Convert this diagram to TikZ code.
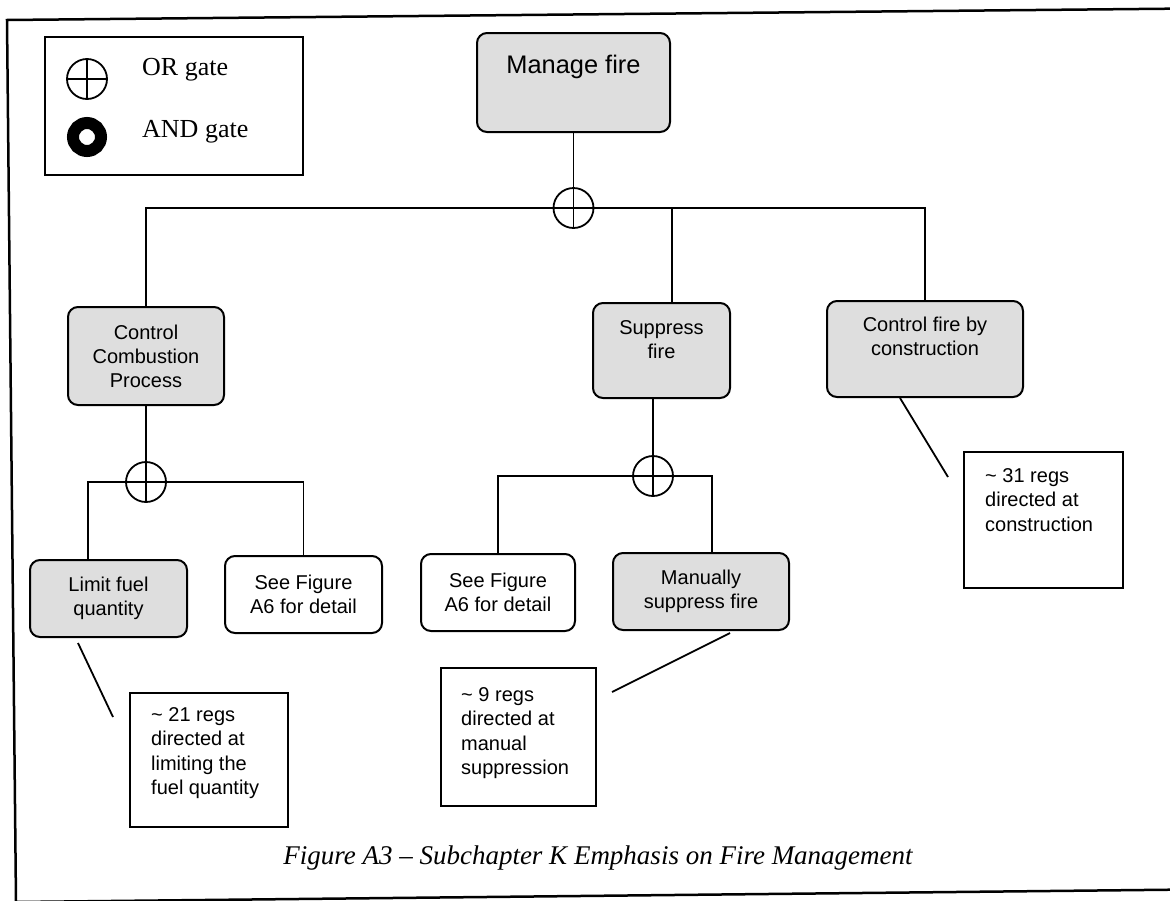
\documentclass[tikz,border=0pt]{standalone}
\usepackage{fontspec}
\setmainfont{Liberation Serif}
\setsansfont{Liberation Sans}
\usetikzlibrary{positioning}
\newcommand{\boxfont}{\fontsize{20}{24}\selectfont\sffamily}
\newcommand{\notefont}{\fontsize{20}{24.6}\selectfont\sffamily}

\begin{document}
\begin{tikzpicture}[x=1pt, y=-1pt,
  goal/.style={draw, line width=2pt, rounded corners=10pt, fill=black!13,
    font=\boxfont, align=center, inner sep=0pt},
  goaltext/.style={font=\boxfont, align=center, inner sep=0pt},
  refbox/.style={draw, line width=2pt, rounded corners=10pt, fill=white,
    font=\boxfont, align=center, inner sep=0pt},
  note/.style={draw, line width=2pt, inner sep=0pt},
  notetext/.style={font=\notefont, align=left, inner sep=0pt},
  orgate/.style={circle, draw, line width=1.8pt, fill=white, minimum size=40pt,
    inner sep=0pt,
    path picture={\draw[line width=1.8pt]
      (path picture bounding box.north) -- (path picture bounding box.south)
      (path picture bounding box.west) -- (path picture bounding box.east);}},
  andgate/.style={circle, draw, line width=12pt, minimum size=28pt, inner sep=0pt},
  wire/.style={line width=1.8pt},
  leader/.style={line width=1.8pt},
  legendbox/.style={draw, line width=2pt, inner sep=0pt},
  gatelabel/.style={font=\fontsize{26}{30}\selectfont, inner sep=0pt},
  figcaption/.style={font=\fontsize{27}{32}\selectfont\itshape, inner sep=0pt},
  pageframe/.style={line width=2.5pt}
]
  \useasboundingbox (0,0) rectangle (1170,900);
  \draw[pageframe] (7,20) -- (1190,8.5) -- (1190,889.5) -- (16,902) -- cycle;

  % Legend
  \node[legendbox, minimum width=258pt, minimum height=138pt] (legend) at (174,106) {};
  \node[orgate]  (legor)  at (87,79)  {};
  \node[andgate] (legand) at (87,137) {};
  \node[gatelabel, anchor=base west] (legortxt)  at (142,75)  {OR gate};
  \node[gatelabel, anchor=base west] (legandtxt) at (142,137) {AND gate};

  % Goals
  \node[goal, minimum width=193pt, minimum height=99pt] (manage) at (573.5,82.5) {};
  \node[goaltext, font=\fontsize{25.4}{30}\selectfont\sffamily, anchor=base]
    (managetxt) at (573.5,73) {Manage fire};
  \node[goal, minimum width=156pt, minimum height=98pt] (ccp) at (146,356)
    {Control\\Combustion\\Process};
  \node[goal, minimum width=137pt, minimum height=95pt] (sup) at (661.5,350.5) {};
  \node[goaltext] (suptxt) at (661.5,340) {Suppress\\fire};
  \node[goal, minimum width=196pt, minimum height=96pt] (cfc) at (925,349) {};
  \node[goaltext] (cfctxt) at (925,336) {Control fire by\\construction};
  \node[goal, minimum width=157pt, minimum height=77pt] (lfq) at (108.5,598.5)
    {Limit fuel\\quantity};
  \node[refbox, minimum width=157pt, minimum height=77pt] (sfa) at (303.5,594.5)
    {See Figure\\A6 for detail};
  \node[refbox, minimum width=154pt, minimum height=77pt] (sfb) at (498,592.5)
    {See Figure\\A6 for detail};
  \node[goal, minimum width=176pt, minimum height=77pt] (msf) at (701,591.5)
    {Manually\\suppress fire};

  % Gates
  \node[orgate] (gateA) at (573.5,208) {};
  \node[orgate] (gateC) at (146,482) {};
  \node[orgate] (gateB) at (653,476) {};

  % Tree wiring
  \draw[wire] (manage.south) -- (gateA.north);
  \draw[wire] (gateA.west) -| (ccp.north);
  \draw[wire] (gateA.east) -| (cfc.north);
  \draw[wire] (gateA.east) -| ([xshift=10.5pt]sup.north);
  \draw[wire] (ccp.south) -- (gateC.north);
  \draw[wire] (gateC.west) -| ([xshift=-20.5pt]lfq.north);
  \draw[wire] (gateC.east) -| (sfa.north);
  \draw[wire] (sup.south -| gateB.north) -- (gateB.north);
  \draw[wire] (gateB.west) -| (sfb.north);
  \draw[wire] (gateB.east) -| ([xshift=11pt]msf.north);

  % Regulation notes
  \node[note, minimum width=158pt, minimum height=134pt, anchor=north west] (n21) at (129,692) {};
  \node[notetext, below right=15pt and 22pt of n21.north west] (n21txt)
    {\textasciitilde{} 21 regs\\directed at\\limiting the\\fuel quantity};
  \node[note, minimum width=159pt, minimum height=136pt, anchor=north west] (n31) at (963,451) {};
  \node[notetext, below right=17pt and 22pt of n31.north west] (n31txt)
    {\textasciitilde{} 31 regs\\directed at\\construction};
  \node[note, minimum width=155pt, minimum height=138pt, anchor=north west] (n9) at (440,667) {};
  \node[notetext, below right=20pt and 21pt of n9.north west] (n9txt)
    {\textasciitilde{} 9 regs\\directed at\\manual\\suppression};

  % Leaders
  \draw[leader] ([shift={(-30.5,5)}]lfq.south) -- ([shift={(-16,25)}]n21.north west);
  \draw[leader] ([shift={(-25,0)}]cfc.south) -- ([shift={(-15,26)}]n31.north west);
  \draw[leader] ([shift={(29,2)}]msf.south) -- ([shift={(15,25)}]n9.north east);

  % Caption
  \node[figcaption, anchor=base] (cap) at (598,864)
    {Figure A3 \textendash{} Subchapter K Emphasis on Fire Management};
\end{tikzpicture}
\end{document}
